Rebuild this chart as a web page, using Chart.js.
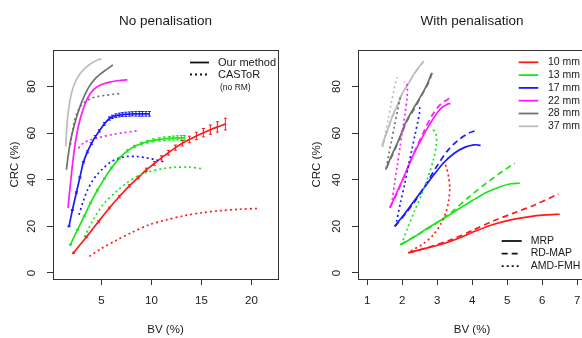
<!DOCTYPE html>
<html>
<head>
<meta charset="utf-8">
<script src="https://cdn.jsdelivr.net/npm/chart.js@4.4.1/dist/chart.umd.min.js"></script>
<style>
  html, body { margin: 0; padding: 0; background: #fff; width: 582px; height: 338px; overflow: hidden; }
  canvas { position: absolute; top: 0; }
  #left { left: 0; }
  #right { left: 290px; }
</style>
</head>
<body>
<canvas id="left" width="290" height="338"></canvas>
<canvas id="right" width="310" height="338"></canvas>
<script>
// ---- data (BV %, CRC %) ----
const sizes = ['10 mm', '13 mm', '17 mm', '22 mm', '28 mm', '37 mm']
const yTicks = [0, 20, 40, 60, 80]

// No penalisation: our method (with error bars) and CASToR
const ours10BV = [2.2, 3.5, 4.7, 5.8, 6.8, 7.8, 8.7, 9.5, 10.3, 11.0, 11.7, 12.4, 13.1, 13.8, 14.5, 15.2, 15.9, 16.6, 17.4]
const ours10CRC = [8.6, 15.4, 22.0, 27.9, 32.8, 37.4, 41.0, 44.3, 47.0, 49.4, 51.6, 53.8, 55.7, 57.3, 58.8, 60.2, 61.5, 62.7, 63.9]
const ours10Err = [0.3, 0.3, 0.4, 0.4, 0.5, 0.5, 0.6, 0.7, 0.8, 0.9, 1.0, 1.1, 1.2, 1.4, 1.6, 1.8, 2.0, 2.2, 2.5]
const castor10BV = [3.8, 5.0, 6.5, 8.0, 9.8, 11.5, 13.2, 15.0, 16.8, 18.7, 20.7]
const castor10CRC = [7.1, 10.5, 14.0, 17.3, 20.7, 22.8, 24.5, 25.8, 26.7, 27.3, 27.7]

const ours13BV = [1.9, 2.6, 3.3, 3.9, 4.6, 5.3, 6.0, 6.8, 7.6, 8.3, 9.0, 9.6, 10.2, 10.8, 11.3, 11.8, 12.2, 12.6, 13.0, 13.3]
const ours13CRC = [12.1, 18.5, 24.5, 30.0, 35.5, 40.5, 45.0, 49.3, 52.4, 54.3, 55.5, 56.3, 56.9, 57.3, 57.6, 57.8, 57.9, 58.0, 58.0, 58.0]
const ours13Err = [0.2, 0.2, 0.3, 0.3, 0.3, 0.3, 0.4, 0.4, 0.5, 0.5, 0.6, 0.6, 0.7, 0.7, 0.8, 0.8, 0.9, 0.9, 1.0, 1.0]
const castor13BV = [3.3, 4.2, 5.2, 6.5, 7.5, 8.8, 9.8, 11.2, 12.5, 13.8, 15.1]
const castor13CRC = [15.5, 23.0, 29.5, 35.0, 38.5, 42.0, 43.5, 44.8, 45.4, 45.4, 44.7]

const ours17BV = [1.76, 2.1, 2.5, 2.85, 3.2, 3.6, 4.0, 4.4, 4.8, 5.3, 5.8, 6.1, 6.45, 6.8, 7.1, 7.45, 7.8, 8.1, 8.45, 8.8, 9.1, 9.45, 9.8]
const ours17CRC = [20.0, 27.0, 34.5, 41.0, 47.5, 52.0, 55.5, 58.5, 61.0, 64.0, 66.3, 67.0, 67.5, 67.8, 68.0, 68.1, 68.2, 68.3, 68.3, 68.3, 68.3, 68.3, 68.3]
const ours17Err = [0.2, 0.2, 0.3, 0.3, 0.3, 0.4, 0.4, 0.5, 0.5, 0.6, 0.7, 0.7, 0.8, 0.8, 0.8, 0.9, 0.9, 0.9, 1.0, 1.0, 1.0, 1.0, 1.0]
const castor17BV = [2.76, 3.2, 3.6, 4.1, 4.6, 5.2, 5.9, 6.7, 7.6, 8.5, 9.4, 10.3, 11.3]
const castor17CRC = [25.0, 31.0, 35.5, 39.5, 42.3, 45.0, 47.5, 49.2, 50.0, 50.0, 49.5, 48.7, 47.6]

const ours22BV = [1.66, 1.9, 2.15, 2.4, 2.65, 2.9, 3.2, 3.5, 3.9, 4.3, 4.8, 5.3, 5.8, 6.3, 6.8, 7.3, 7.6]
const ours22CRC = [27.9, 38.0, 48.0, 56.0, 62.0, 66.5, 70.5, 74.0, 77.0, 79.0, 80.5, 81.3, 81.9, 82.3, 82.6, 82.8, 82.9]
const castor22BV = [2.7, 3.2, 3.8, 4.5, 5.3, 6.2, 7.2, 8.6]
const castor22CRC = [53.5, 55.8, 57.0, 57.9, 58.7, 59.5, 60.2, 61.0]

const ours28BV = [1.5, 1.7, 1.95, 2.3, 2.6, 3.0, 3.4, 3.85, 4.3, 4.85, 5.5, 6.15]
const ours28CRC = [44.3, 51.0, 57.5, 63.5, 68.0, 73.0, 77.0, 80.5, 83.0, 85.2, 87.3, 89.3]
const castor28BV = [1.9, 2.2, 2.5, 2.9, 3.4, 4.0, 4.7, 5.5, 6.2, 6.8]
const castor28CRC = [55.0, 63.0, 68.0, 71.5, 73.5, 75.0, 75.8, 76.3, 76.7, 77.0]

const ours37BV = [1.43, 1.55, 1.7, 1.9, 2.15, 2.5, 2.9, 3.4, 4.0, 4.5, 5.0]
const ours37CRC = [54.3, 63.0, 69.5, 75.0, 79.3, 83.0, 85.7, 88.0, 90.0, 91.2, 92.0]

// With penalisation: MRP, RD-MAP, AMD-FMH
const mrp10BV = [2.17, 2.6, 3.1, 3.6, 4.1, 4.6, 5.1, 5.6, 6.1, 6.5]
const mrp10CRC = [8.6, 10.3, 12.2, 14.8, 18.0, 20.8, 22.8, 24.1, 24.9, 25.2]
const rdmap10BV = [2.2, 2.8, 3.4, 4.0, 4.6, 5.2, 5.8, 6.46]
const rdmap10CRC = [8.7, 11.2, 14.3, 18.2, 22.3, 25.8, 29.3, 33.9]
const amd10BV = [2.25, 2.6, 2.9, 3.1, 3.25, 3.33, 3.36, 3.33, 3.27, 3.22]
const amd10CRC = [9.5, 12.5, 16.5, 21.0, 26.0, 31.0, 36.0, 41.0, 45.0, 47.2]

const mrp13BV = [1.95, 2.4, 2.8, 3.2, 3.6, 4.0, 4.4, 4.8, 5.1, 5.36]
const mrp13CRC = [12.1, 16.0, 20.0, 23.5, 27.3, 31.0, 34.5, 37.0, 38.3, 38.5]
const rdmap13BV = [1.95, 2.4, 2.9, 3.4, 3.9, 4.4, 4.9, 5.22]
const rdmap13CRC = [12.1, 16.0, 20.5, 26.0, 32.5, 38.5, 44.0, 47.1]
const amd13BV = [1.98, 2.15, 2.35, 2.55, 2.75, 2.9, 2.97, 2.98, 2.93, 2.88]
const amd13CRC = [12.1, 19.0, 26.5, 33.5, 41.5, 49.0, 54.5, 58.5, 60.8, 61.4]

const mrp17BV = [1.78, 2.0, 2.3, 2.6, 2.9, 3.2, 3.5, 3.8, 4.05, 4.24]
const mrp17CRC = [20.0, 24.0, 30.0, 36.0, 42.0, 47.5, 51.5, 54.0, 55.0, 54.8]
const rdmap17BV = [1.8, 2.1, 2.4, 2.7, 3.0, 3.3, 3.6, 3.9, 4.08]
const rdmap17CRC = [20.0, 25.5, 31.5, 38.5, 46.0, 52.5, 57.0, 60.0, 61.0]
const amd17BV = [1.84, 1.95, 2.07, 2.18, 2.28, 2.37, 2.45, 2.5, 2.5, 2.44]
const amd17CRC = [22.0, 30.0, 38.0, 46.0, 53.0, 59.5, 65.0, 69.0, 70.8, 71.4]

const mrp22BV = [1.65, 1.8, 1.95, 2.1, 2.3, 2.5, 2.7, 2.9, 3.1, 3.3, 3.38]
const mrp22CRC = [27.9, 33.0, 38.0, 43.0, 50.0, 56.0, 61.5, 66.5, 70.5, 72.5, 72.7]
const rdmap22BV = [1.65, 1.85, 2.1, 2.35, 2.6, 2.85, 3.1, 3.36]
const rdmap22CRC = [28.0, 34.0, 43.0, 52.0, 60.0, 67.5, 72.5, 75.0]
const amd22BV = [1.7, 1.78, 1.86, 1.94, 2.02, 2.09, 2.14, 2.15, 2.12, 2.05]
const amd22CRC = [29.3, 38.0, 46.0, 54.0, 62.0, 69.0, 75.0, 79.5, 81.5, 81.9]

const mrp28BV = [1.53, 1.7, 1.9, 2.1, 2.3, 2.5, 2.7, 2.84]
const mrp28CRC = [44.3, 50.5, 57.0, 64.5, 70.0, 75.0, 80.5, 85.7]
const rdmap28BV = [1.55, 1.75, 1.95, 2.15, 2.35, 2.55, 2.75, 2.86]
const rdmap28CRC = [45.0, 51.5, 58.5, 65.5, 70.5, 76.0, 81.5, 86.0]
const amd28BV = [1.55, 1.62, 1.7, 1.78, 1.86, 1.93, 1.96]
const amd28CRC = [45.0, 51.0, 57.0, 63.0, 69.0, 74.0, 76.0]

const mrp37BV = [1.42, 1.55, 1.7, 1.85, 2.0, 2.15, 2.3, 2.45, 2.62]
const mrp37CRC = [54.6, 60.0, 66.4, 71.5, 77.0, 80.5, 84.5, 87.8, 91.0]
const rdmap37BV = [1.44, 1.57, 1.72, 1.87, 2.02, 2.17, 2.32, 2.47, 2.6]
const rdmap37CRC = [54.6, 60.5, 67.0, 72.0, 77.5, 81.0, 84.8, 88.0, 90.5]
const amd37BV = [1.45, 1.52, 1.6, 1.68, 1.76, 1.82, 1.86, 1.84]
const amd37CRC = [54.0, 60.0, 66.0, 72.0, 78.0, 82.0, 83.7, 84.0]

// ---- styles ----
const FONT = '"Liberation Sans", Arial, Helvetica, sans-serif'
const INK = '#1a1a1a'
const colors = ['#ff1a1a', '#1ae61a', '#1a1aff', '#ff1aff', '#707070', '#bdbdbd']
const SOLID = []
const DASHED = [6, 4]
const DOTTED = [2, 3]

function pts(xs, ys) {
  return xs.map((x, i) => ({ x, y: ys[i] }))
}

function line(xs, ys, color, dash, errs) {
  return {
    data: pts(xs, ys),
    borderColor: color,
    borderWidth: 1.7,
    borderDash: dash,
    pointRadius: 0,
    showLine: true,
    tension: 0.3,
    errs: errs || null
  }
}

// error bars, frame, rotated y labels, titles and legends
const decor = {
  id: 'decor',
  afterDatasetsDraw(chart) {
    const { ctx } = chart
    const xs = chart.scales.x, ys = chart.scales.y
    ctx.save()
    ctx.lineWidth = 1
    chart.data.datasets.forEach(ds => {
      if (!ds.errs) return
      ctx.strokeStyle = ds.borderColor
      ds.data.forEach((p, i) => {
        const e = ds.errs[i]
        const px = xs.getPixelForValue(p.x)
        const y1 = ys.getPixelForValue(p.y - e)
        const y2 = ys.getPixelForValue(p.y + e)
        ctx.beginPath()
        ctx.moveTo(px, y1); ctx.lineTo(px, y2)
        ctx.moveTo(px - 1.5, y1); ctx.lineTo(px + 1.5, y1)
        ctx.moveTo(px - 1.5, y2); ctx.lineTo(px + 1.5, y2)
        ctx.stroke()
      })
    })
    ctx.restore()
  },
  afterDraw(chart, args, o) {
    const { ctx, chartArea: a } = chart
    const ys = chart.scales.y
    ctx.save()
    ctx.strokeStyle = '#333'
    ctx.lineWidth = 1
    ctx.strokeRect(Math.round(a.left) + 0.5, Math.round(a.top) + 0.5, Math.round(a.right - a.left), Math.round(a.bottom - a.top))

    ctx.fillStyle = INK
    ctx.textAlign = 'center'
    ctx.textBaseline = 'middle'
    const cx = (a.left + a.right) / 2

    ctx.font = '13.5px ' + FONT
    ctx.fillText(o.title, cx, 21)

    ctx.font = '11.5px ' + FONT
    ctx.fillText('BV (%)', cx, 330)

    // y tick labels, parallel to the axis
    ys.ticks.forEach(t => {
      const py = ys.getPixelForValue(t.value)
      ctx.save()
      ctx.translate(o.yLabelX, py)
      ctx.rotate(-Math.PI / 2)
      ctx.fillText(String(t.value), 0, 0)
      ctx.restore()
    })
    ctx.save()
    ctx.translate(o.yTitleX, (a.top + a.bottom) / 2)
    ctx.rotate(-Math.PI / 2)
    ctx.fillText('CRC (%)', 0, 0)
    ctx.restore()

    // legends
    o.legends.forEach(lg => {
      lg.items.forEach((it, i) => {
        const y = lg.y + i * lg.step
        ctx.strokeStyle = it.color
        ctx.lineWidth = 1.8
        ctx.setLineDash(it.dash)
        ctx.beginPath()
        ctx.moveTo(lg.x1, y); ctx.lineTo(lg.x2, y)
        ctx.stroke()
        ctx.setLineDash([])
        ctx.fillStyle = INK
        ctx.textAlign = 'left'
        ctx.font = lg.font + 'px ' + FONT
        ctx.fillText(it.text, lg.tx, y)
      })
      if (lg.note) {
        ctx.font = '8.5px ' + FONT
        ctx.fillText(lg.note.text, lg.note.x, lg.note.y)
      }
    })
    ctx.restore()
  }
}

function makeChart(id, datasets, o) {
  return new Chart(document.getElementById(id), {
    type: 'scatter',
    data: { datasets },
    options: {
      responsive: false,
      animation: false,
      layout: { padding: { top: 50, right: o.padRight, left: 0, bottom: 0 } },
      plugins: { legend: { display: false }, tooltip: { enabled: false }, decor: o },
      scales: {
        x: {
          type: 'linear', min: o.xMin, max: o.xMax,
          afterFit: s => { s.height = 59 },
          ticks: { stepSize: o.xStep, includeBounds: false, color: INK, font: { family: FONT, size: 11.5 }, padding: 9 },
          grid: { drawOnChartArea: false, drawTicks: true, tickLength: 6, color: '#333' },
          border: { display: false }
        },
        y: {
          type: 'linear', min: -2.6, max: 95.7,
          afterFit: s => { s.width = o.yWidth },
          afterBuildTicks: s => { s.ticks = yTicks.map(v => ({ value: v })) },
          ticks: { display: false },
          grid: { drawOnChartArea: false, drawTicks: true, tickLength: 6, color: '#333' },
          border: { display: false }
        }
      }
    },
    plugins: [decor]
  })
}

// ---- left panel ----
const leftSets = [
  line(castor10BV, castor10CRC, colors[0], DOTTED),
  line(castor13BV, castor13CRC, colors[1], DOTTED),
  line(castor17BV, castor17CRC, colors[2], DOTTED),
  line(castor22BV, castor22CRC, colors[3], DOTTED),
  line(castor28BV, castor28CRC, colors[4], DOTTED),
  line(ours37BV, ours37CRC, colors[5], SOLID),
  line(ours28BV, ours28CRC, colors[4], SOLID),
  line(ours22BV, ours22CRC, colors[3], SOLID),
  line(ours17BV, ours17CRC, colors[2], SOLID, ours17Err),
  line(ours13BV, ours13CRC, colors[1], SOLID, ours13Err),
  line(ours10BV, ours10CRC, colors[0], SOLID, ours10Err)
]

makeChart('left', leftSets, {
  title: 'No penalisation',
  xMin: 0.16, xMax: 22.66, xStep: 5,
  yWidth: 53, padRight: 12,
  yLabelX: 32, yTitleX: 15,
  legends: [{
    x1: 190, x2: 209, tx: 218, y: 62.5, step: 12, font: 11,
    items: [
      { text: 'Our method', color: '#111', dash: SOLID },
      { text: 'CASToR', color: '#111', dash: DOTTED }
    ],
    note: { text: '(no RM)', x: 220, y: 88 }
  }]
})

// ---- right panel ----
const rightSets = [
  line(amd37BV, amd37CRC, colors[5], DOTTED),
  line(amd28BV, amd28CRC, colors[4], DOTTED),
  line(amd22BV, amd22CRC, colors[3], DOTTED),
  line(amd17BV, amd17CRC, colors[2], DOTTED),
  line(amd13BV, amd13CRC, colors[1], DOTTED),
  line(amd10BV, amd10CRC, colors[0], DOTTED),
  line(rdmap37BV, rdmap37CRC, colors[5], DASHED),
  line(rdmap28BV, rdmap28CRC, colors[4], DASHED),
  line(rdmap22BV, rdmap22CRC, colors[3], DASHED),
  line(rdmap17BV, rdmap17CRC, colors[2], DASHED),
  line(rdmap13BV, rdmap13CRC, colors[1], DASHED),
  line(rdmap10BV, rdmap10CRC, colors[0], DASHED),
  line(mrp37BV, mrp37CRC, colors[5], SOLID),
  line(mrp28BV, mrp28CRC, colors[4], SOLID),
  line(mrp22BV, mrp22CRC, colors[3], SOLID),
  line(mrp17BV, mrp17CRC, colors[2], SOLID),
  line(mrp13BV, mrp13CRC, colors[1], SOLID),
  line(mrp10BV, mrp10CRC, colors[0], SOLID)
]

makeChart('right', rightSets, {
  title: 'With penalisation',
  xMin: 0.74, xMax: 7.25, xStep: 1,
  yWidth: 68, padRight: 14,
  yLabelX: 47, yTitleX: 27,
  legends: [
    {
      x1: 228.7, x2: 248.3, tx: 258, y: 62.3, step: 12.8, font: 10.5,
      items: sizes.map((s, i) => ({ text: s, color: colors[i], dash: SOLID }))
    },
    {
      x1: 211.7, x2: 231.7, tx: 240.7, y: 241, step: 12.6, font: 10.5,
      items: [
        { text: 'MRP', color: '#111', dash: SOLID },
        { text: 'RD-MAP', color: '#111', dash: DASHED },
        { text: 'AMD-FMH', color: '#111', dash: DOTTED }
      ]
    }
  ]
})
</script>
</body>
</html>
